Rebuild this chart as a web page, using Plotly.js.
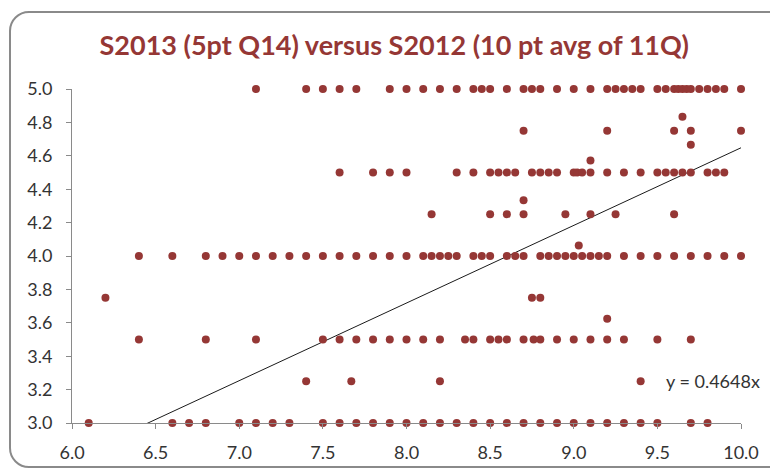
<!DOCTYPE html>
<html>
<head>
<meta charset="utf-8">
<script src="https://cdn.plot.ly/plotly-3.0.1.min.js"></script>
<style>
  html, body { margin: 0; padding: 0; background: #ffffff; width: 770px; height: 469px; overflow: hidden; }
  #frame { position: absolute; left: 9px; top: 11px; width: 800px; height: 457px;
           border: 2px solid #8a8a8a; border-radius: 20px; box-sizing: border-box; }
  #chart { position: absolute; left: 0; top: 0; width: 770px; height: 469px; }
</style>
</head>
<body>
<div id="frame"></div>
<div id="chart"></div>
<script>
// ---- Data (S2012 10-pt average on x, S2013 5-pt Q14 score on y) ----
const title = "S2013 (5pt Q14) versus S2012 (10 pt avg of 11Q)";
const trendSlope = 0.4648;

// x values (S2012) observed at each S2013 score level
const x_at_500 = [7.1, 7.4, 7.5, 7.6, 7.7, 7.9, 8.0, 8.1, 8.2, 8.3, 8.4, 8.45, 8.5, 8.6, 8.7, 8.75, 8.8, 8.9, 9.0, 9.1, 9.2, 9.25, 9.3, 9.35, 9.4, 9.5, 9.55, 9.6, 9.625, 9.65, 9.675, 9.7, 9.75, 9.8, 9.85, 9.9, 10.0];
const x_at_483 = [9.65];
const x_at_475 = [8.7, 9.2, 9.6, 9.7, 10.0];
const x_at_467 = [9.7];
const x_at_457 = [9.1];
const x_at_450 = [7.6, 7.8, 7.9, 8.0, 8.3, 8.4, 8.5, 8.55, 8.6, 8.65, 8.75, 8.8, 8.85, 8.9, 9.0, 9.02, 9.05, 9.1, 9.2, 9.3, 9.4, 9.5, 9.55, 9.6, 9.65, 9.7, 9.8, 9.85, 9.9];
const x_at_433 = [8.7];
const x_at_425 = [8.15, 8.5, 8.6, 8.7, 8.95, 9.1, 9.25, 9.6];
const x_at_406 = [9.03];
const x_at_400 = [6.4, 6.6, 6.8, 6.9, 7.0, 7.1, 7.2, 7.3, 7.4, 7.5, 7.6, 7.7, 7.8, 7.9, 8.0, 8.1, 8.15, 8.2, 8.25, 8.3, 8.4, 8.45, 8.5, 8.6, 8.65, 8.7, 8.8, 8.85, 8.9, 8.95, 9.0, 9.05, 9.1, 9.15, 9.2, 9.3, 9.4, 9.5, 9.6, 9.7, 9.8, 9.9, 10.0];
const x_at_375 = [6.2, 8.75, 8.8];
const x_at_363 = [9.2];
const x_at_350 = [6.4, 6.8, 7.1, 7.5, 7.6, 7.7, 7.8, 7.9, 8.0, 8.1, 8.2, 8.35, 8.4, 8.5, 8.55, 8.6, 8.7, 8.76, 8.8, 8.9, 9.0, 9.1, 9.2, 9.3, 9.5, 9.7];
const x_at_325 = [7.4, 7.67, 8.2, 9.4];
const x_at_300 = [6.1, 6.6, 6.7, 6.8, 7.0, 7.1, 7.2, 7.3, 7.5, 7.6, 7.7, 7.8, 7.9, 8.0, 8.1, 8.2, 8.3, 8.4, 8.5, 8.6, 8.7, 8.8, 8.9, 9.0, 9.1, 9.2, 9.3, 9.4, 9.5, 9.7, 9.8];

const scoreLevels = [5.0, 4.8333, 4.75, 4.6667, 4.5714, 4.5, 4.3333, 4.25, 4.0625, 4.0, 3.75, 3.625, 3.5, 3.25, 3.0];
const xByLevel = [x_at_500, x_at_483, x_at_475, x_at_467, x_at_457, x_at_450, x_at_433, x_at_425, x_at_406, x_at_400, x_at_375, x_at_363, x_at_350, x_at_325, x_at_300];

const xTickVals = [6.0, 6.5, 7.0, 7.5, 8.0, 8.5, 9.0, 9.5, 10.0];
const yTickVals = [3.0, 3.2, 3.4, 3.6, 3.8, 4.0, 4.2, 4.4, 4.6, 4.8, 5.0];
const xRange = [6.0, 10.0];
const yRange = [3.0, 5.0];

// ---- Build traces ----
const xs = [], ys = [];
scoreLevels.forEach(function (lvl, i) {
  xByLevel[i].forEach(function (v) { xs.push(v); ys.push(lvl); });
});

const pointColor = "#953735";
const scatter = {
  type: "scatter", mode: "markers", x: xs, y: ys,
  marker: { color: pointColor, size: 8, line: { width: 0 } },
  cliponaxis: false, hoverinfo: "skip", showlegend: false
};

const trendX = xRange.slice();
const trendY = trendX.map(function (v) { return trendSlope * v; });
const trend = {
  type: "scatter", mode: "lines", x: trendX, y: trendY,
  line: { color: "#1a1a1a", width: 1 },
  cliponaxis: true, hoverinfo: "skip", showlegend: false
};

const tickFont = { family: "Lato, 'Open Sans', sans-serif", size: 18, color: "#333333" };
const axisCommon = {
  showgrid: false, zeroline: false, showline: true, linecolor: "#8a8a8a", linewidth: 1,
  ticks: "outside", ticklen: 5, tickcolor: "#8a8a8a", tickwidth: 1,
  tickfont: tickFont, tickformat: ".1f", fixedrange: true
};

const layout = {
  width: 770, height: 469,
  margin: { l: 72, r: 29, t: 89, b: 46 },
  paper_bgcolor: "rgba(0,0,0,0)", plot_bgcolor: "rgba(0,0,0,0)",
  title: {
    text: "<b>" + title + "</b>",
    font: { family: "Lato, 'Open Sans', sans-serif", size: 27, color: "#953735" },
    xref: "container", yref: "container", x: 0.512, y: 0.902, xanchor: "center", yanchor: "middle"
  },
  xaxis: Object.assign({}, axisCommon, { range: xRange, tickmode: "array", tickvals: xTickVals, ticklabelstandoff: 8 }),
  yaxis: Object.assign({}, axisCommon, { range: yRange, tickmode: "array", tickvals: yTickVals, ticklabelstandoff: 10 }),
  annotations: [{
    xref: "x", yref: "y", x: 9.54, y: 3.25, xanchor: "left", yanchor: "middle",
    text: "y = " + trendSlope + "x", showarrow: false,
    font: { family: "Lato, 'Open Sans', sans-serif", size: 18, color: "#333333" }
  }]
};

Plotly.newPlot("chart", [trend, scatter], layout, { staticPlot: true, displayModeBar: false });
</script>
</body>
</html>
